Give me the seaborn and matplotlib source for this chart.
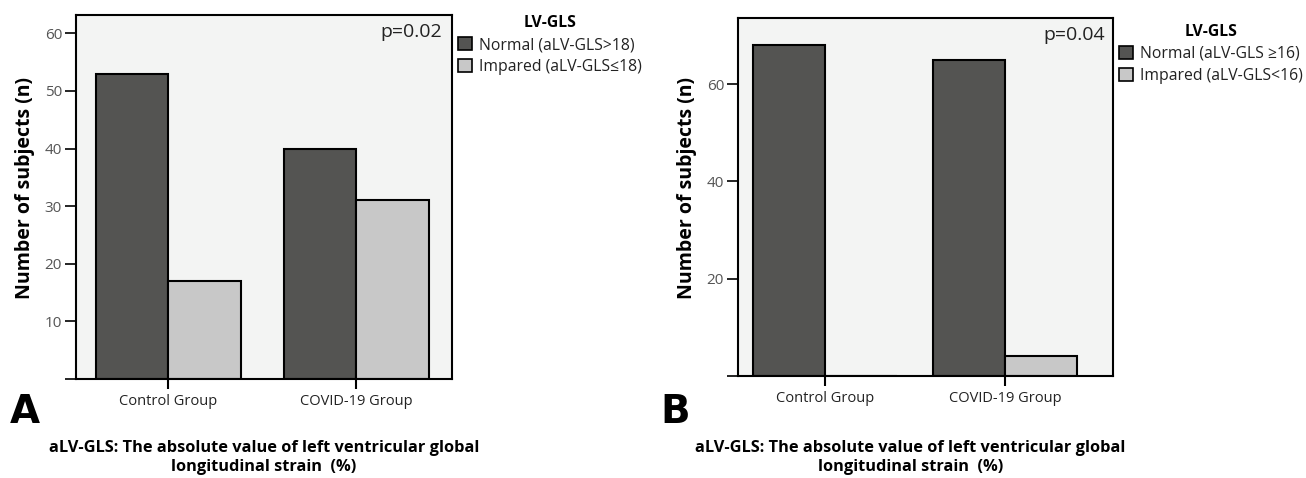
import numpy as np
import pandas as pd
import seaborn as sns
import matplotlib.pyplot as plt

groups = ["Control Group", "COVID-19 Group"]

a_labels = ["Normal (aLV-GLS>18)", "Impared (aLV-GLS\u226418)"]
a_normal = [53, 40]
a_impaired = [17, 31]

b_labels = ["Normal (aLV-GLS \u226516)", "Impared (aLV-GLS<16)"]
b_normal = [68, 65]
b_impaired = [0, 4]

sns.set_theme(style="white")
plt.rcParams["font.family"] = ["Open Sans", "DejaVu Sans"]
plt.rcParams["text.color"] = "black"
plt.rcParams["axes.labelcolor"] = "black"

bar_colors = ["#545452", "#c8c8c8"]
panel_bg = "#f3f4f3"


def make_df(normal, impaired, labels):
    rows = []
    for g, n, i in zip(groups, normal, impaired):
        rows.append({"group": g, "status": labels[0], "count": n})
        rows.append({"group": g, "status": labels[1], "count": i})
    return pd.DataFrame(rows)


def draw_panel(ax, df, labels, width, xlim, ylim, yticks, ptext, px, py,
               legend_anchor, xlabel_pos, ylabel_pos):
    sns.barplot(
        data=df, x="group", y="count", hue="status", hue_order=labels,
        palette=bar_colors, width=width, gap=0, edgecolor="black",
        linewidth=1.5, ax=ax, errorbar=None, saturation=1
    )
    ax.set_facecolor(panel_bg)
    ax.set_xlim(*xlim)
    ax.set_ylim(*ylim)
    ax.set_yticks(yticks)
    ax.set_yticklabels([""] + [str(t) for t in yticks[1:]])
    for s in ax.spines.values():
        s.set_color("black")
        s.set_linewidth(1.5)
    ax.tick_params(axis="y", left=True, length=8, width=1.2, color="black",
                   labelsize=11, labelcolor="#555555", pad=2)
    ax.tick_params(axis="x", bottom=True, length=7, width=1.5, color="black",
                   labelsize=10.5, labelcolor="#222222", pad=4)
    ax.set_ylabel("Number of subjects (n)", fontsize=14, fontweight="bold")
    ax.yaxis.set_label_coords(*ylabel_pos)
    ax.set_xlabel("aLV-GLS: The absolute value of left ventricular global\nlongitudinal strain  (%)",
                  fontsize=11.8, fontweight="bold", linespacing=1.25)
    ax.xaxis.set_label_coords(*xlabel_pos)
    ax.text(px, py, ptext, transform=ax.transAxes, ha="right", va="center",
            fontsize=14, color="#222222")
    leg = ax.legend(title="LV-GLS", loc="upper left", bbox_to_anchor=legend_anchor,
                    frameon=False, fontsize=11.3, handlelength=0.9, handleheight=0.9,
                    handletextpad=0.45, borderpad=0, borderaxespad=0, labelspacing=0.4,
                    title_fontproperties={"weight": "bold", "size": 11.3})
    for h in leg.legend_handles:
        h.set_edgecolor("black")
        h.set_linewidth(1.2)
    for t in leg.get_texts():
        t.set_color("#222222")


fig = plt.figure(figsize=(13.06, 4.78), dpi=100)
ax_a = fig.add_axes([0.0582, 0.207, 0.288, 0.762])
ax_b = fig.add_axes([0.565, 0.214, 0.287, 0.748])

draw_panel(ax_a, make_df(a_normal, a_impaired, a_labels), a_labels, 0.77,
           (-0.49, 1.51), (0, 63.2), [0, 10, 20, 30, 40, 50, 60],
           "p=0.02", 0.973, 0.953, (1.016, 1.0), (0.499, -0.167), (-0.11, 0.525))
draw_panel(ax_b, make_df(b_normal, b_impaired, b_labels), b_labels, 0.8,
           (-0.485, 1.6), (0, 73.6), [0, 20, 40, 60],
           "p=0.04", 0.979, 0.952, (1.016, 0.985), (0.461, -0.18), (-0.108, 0.524))

fig.text(10 / 1306, 1 - 412 / 478, "A", fontsize=28, fontweight="heavy",
         ha="left", va="center", color="black", family=["DejaVu Sans"])
fig.text(660 / 1306, 1 - 412 / 478, "B", fontsize=28, fontweight="heavy",
         ha="left", va="center", color="black", family=["DejaVu Sans"])

fig.savefig("out.png", dpi=100)
